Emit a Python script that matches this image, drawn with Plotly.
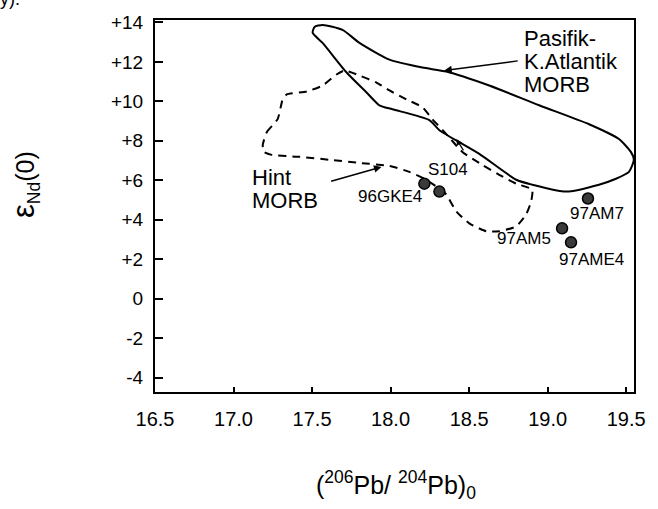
import plotly.graph_objects as go

# Pacific - N. Atlantic MORB field (solid outline)
pac_x = [17.567, 17.694, 17.802, 17.993, 18.203, 18.355, 18.628, 18.946, 19.264, 19.454,
         19.530, 19.549, 19.518, 19.435, 19.327, 19.118, 18.902, 18.800, 18.565, 18.311,
         18.247, 18.012, 17.929, 17.847, 17.720, 17.567, 17.504, 17.516, 17.567]
pac_y = [13.87, 13.62, 12.96, 12.11, 11.71, 11.51, 10.80, 9.80, 8.84, 8.09,
         7.44, 7.04, 6.43, 6.08, 5.78, 5.43, 5.78, 6.03, 7.34, 8.54,
         9.05, 9.60, 9.80, 10.45, 11.46, 12.96, 13.47, 13.77, 13.87]

# Indian MORB field (dashed outline)
ind_x = [17.186, 17.212, 17.281, 17.313, 17.339, 17.466, 17.567, 17.656, 17.707, 17.802,
         17.910, 17.993, 18.101, 18.203, 18.266, 18.355, 18.457, 18.584, 18.692, 18.800,
         18.902, 18.895, 18.863, 18.800, 18.692, 18.609, 18.501, 18.419, 18.355, 18.311,
         18.215, 18.120, 17.993, 17.802, 17.612, 17.421, 17.243, 17.193, 17.186]
ind_y = [7.79, 8.44, 9.10, 10.10, 10.35, 10.50, 10.80, 11.36, 11.56, 11.31,
         10.95, 10.55, 10.10, 9.70, 9.10, 8.34, 7.44, 6.78, 6.28, 5.83,
         5.53, 4.92, 4.27, 3.67, 3.42, 3.42, 3.82, 4.42, 5.28, 5.58,
         6.08, 6.43, 6.73, 6.88, 7.04, 7.19, 7.29, 7.44, 7.79]

# Samples
samples = ["96GKE4", "S104", "97AM7", "97AM5", "97AME4"]
pb_ratio = [18.215, 18.311, 19.257, 19.092, 19.149]
eps_nd = [5.83, 5.43, 5.08, 3.57, 2.86]
label_dx = [-34, 9, 9, -38, 20]
label_dy = [-13, 22, -15, -10, -17]

# Field labels (one entry per text line)
pac_lines = ["Pasifik-", "K.Atlantik", "MORB"]
pac_line_y = [13.17, 12.04, 10.85]
ind_lines = ["Hint", "MORB"]
ind_line_y = [6.13, 5.00]

x_ticks = [16.5, 17.0, 17.5, 18.0, 18.5, 19.0, 19.5]
x_ticktext = ["16.5", "17.0", "17.5", "18.0", "18.5", "19.0", "19.5"]
y_ticks = [14, 12, 10, 8, 6, 4, 2, 0, -2, -4]
y_ticktext = ["+14", "+12", "+10", "+8", "+6", "+4", "+2", "0", "-2", "-4"]

FONT = "Arial, Liberation Sans, sans-serif"

fig = go.Figure()
fig.add_trace(go.Scatter(x=pac_x, y=pac_y, mode="lines",
                         line=dict(color="black", width=2, shape="spline", smoothing=0.6),
                         hoverinfo="skip", showlegend=False))
fig.add_trace(go.Scatter(x=ind_x, y=ind_y, mode="lines",
                         line=dict(color="black", width=2, dash="8px,6px", shape="spline", smoothing=0.5),
                         hoverinfo="skip", showlegend=False))
fig.add_trace(go.Scatter(x=pb_ratio, y=eps_nd, mode="markers",
                         marker=dict(size=11, color="#3a3a3a", line=dict(color="black", width=1.5)),
                         showlegend=False))

annotations = []
for name, x, y, dx, dy in zip(samples, pb_ratio, eps_nd, label_dx, label_dy):
    annotations.append(dict(x=x, y=y, xref="x", yref="y", text=name, showarrow=False,
                            xshift=dx, yshift=dy, font=dict(family=FONT, size=17, color="black")))

for t, y in zip(pac_lines, pac_line_y):
    annotations.append(dict(x=18.838, y=y, xref="x", yref="y", text=t, showarrow=False,
                            xanchor="left", yanchor="middle",
                            font=dict(family=FONT, size=22, color="black")))
for t, y in zip(ind_lines, ind_line_y):
    annotations.append(dict(x=17.104, y=y, xref="x", yref="y", text=t, showarrow=False,
                            xanchor="left", yanchor="middle",
                            font=dict(family=FONT, size=22, color="black")))

annotations += [
    dict(x=18.342, y=11.56, ax=18.819, ay=12.06, xref="x", yref="y", axref="x", ayref="y",
         text="", showarrow=True, arrowhead=2, arrowsize=1, arrowwidth=1.5, arrowcolor="black"),
    dict(x=17.942, y=6.68, ax=17.612, ay=5.93, xref="x", yref="y", axref="x", ayref="y",
         text="", showarrow=True, arrowhead=2, arrowsize=1, arrowwidth=1.5, arrowcolor="black"),
    dict(x=18.419, y=8.09, ax=18.470, ay=7.44, xref="x", yref="y", axref="x", ayref="y",
         text="", showarrow=True, arrowhead=2, arrowsize=1, arrowwidth=1.2, arrowcolor="black"),
    dict(x=-0.271, y=0.557, xref="paper", yref="paper", xanchor="center", yanchor="middle",
         text='<span style="font-size:31px">ε</span><sub>Nd</sub>(0)',
         textangle=-90, showarrow=False, font=dict(family=FONT, size=25, color="black")),
    dict(x=0.504, y=-0.25, xref="paper", yref="paper", xanchor="center", yanchor="middle",
         text="(<sup>206</sup>Pb/ <sup>204</sup>Pb)<sub>0</sub>",
         showarrow=False, font=dict(family=FONT, size=25, color="black")),
    dict(x=-0.327, y=1.0, xref="paper", yref="paper", yshift=9, text="y).", showarrow=False,
         xanchor="left", yanchor="bottom", font=dict(family=FONT, size=18, color="black")),
]

fig.update_layout(
    width=658, height=509,
    margin=dict(l=155, r=23, t=17, b=117),
    paper_bgcolor="white", plot_bgcolor="white",
    font=dict(family=FONT, color="black"),
    annotations=annotations,
    xaxis=dict(range=[16.5, 19.55], tickvals=x_ticks, ticktext=x_ticktext,
               showline=True, mirror=True, linecolor="black", linewidth=2,
               ticks="inside", ticklen=5, tickwidth=1.5, tickcolor="black",
               showgrid=False, zeroline=False, ticklabelstandoff=8,
               tickfont=dict(family=FONT, size=20, color="black")),
    yaxis=dict(range=[-4.72, 14.12], tickvals=y_ticks, ticktext=y_ticktext,
               showline=True, mirror=True, linecolor="black", linewidth=2,
               ticks="inside", ticklen=8, tickwidth=2, tickcolor="black",
               showgrid=False, zeroline=False, ticklabelstandoff=6,
               tickfont=dict(family=FONT, size=19, color="black")),
)

fig.write_html("out.html")
